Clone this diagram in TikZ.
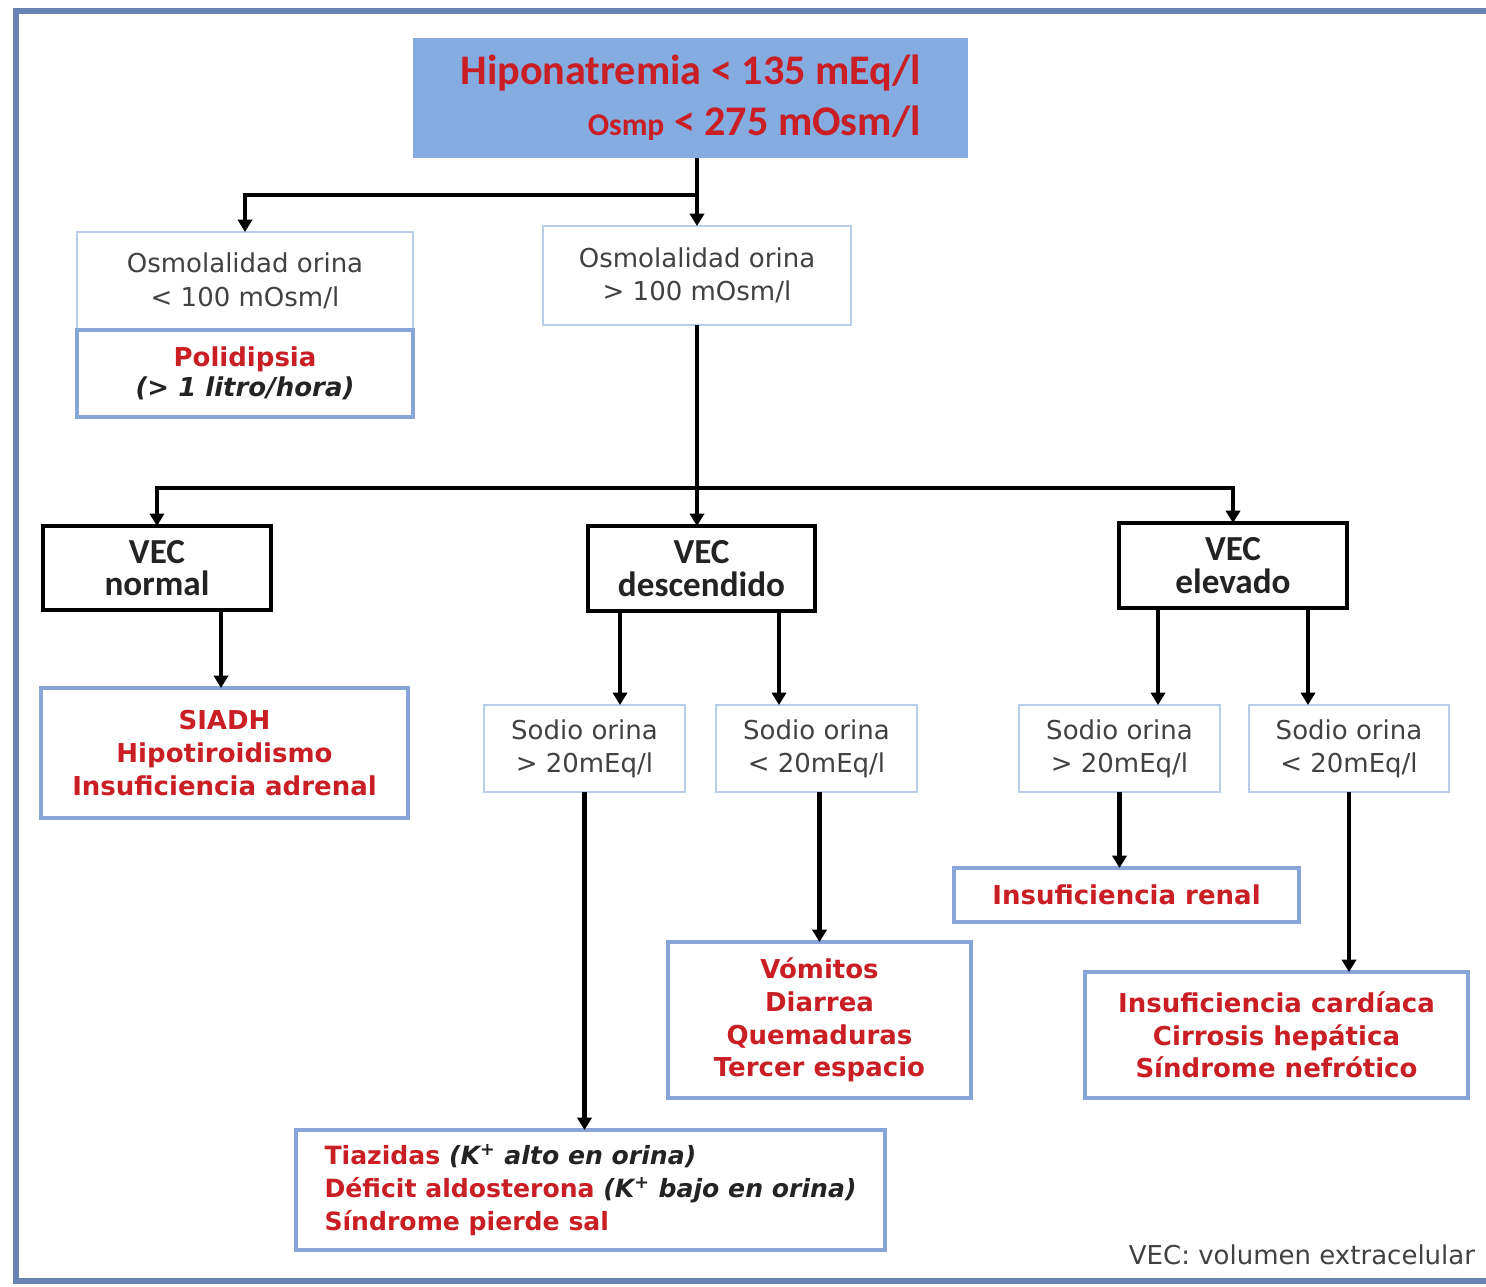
\documentclass[tikz,border=0pt]{standalone}
\usepackage{fontspec}
\setmainfont{DejaVu Sans}
\newfontfamily\carl{Carlito}
\usetikzlibrary{arrows.meta}
\definecolor{rd}{RGB}{200,30,36}
\definecolor{frm}{RGB}{105,130,180}
\definecolor{ttl}{RGB}{132,172,224}
\definecolor{bbl}{RGB}{135,165,215}
\definecolor{lbl}{RGB}{185,205,232}
\definecolor{gtx}{RGB}{65,65,65}
\definecolor{dtx}{RGB}{35,35,35}
\newcommand\bx[7]{\node[#6, minimum width={(#4-#2)*0.02cm}, minimum height={(#5-#3)*0.02cm}] (#1) at ({(#2+#4)/2},{(#3+#5)/2}) {#7};}
\begin{document}
\begin{tikzpicture}[x=0.02cm,y=-0.02cm,
  every node/.style={inner sep=0pt, outer sep=0pt},
  thin box/.style={draw=lbl, line width=0.9pt, fill=white, align=center, text=gtx, font=\fontsize{14.8}{19}\selectfont},
  blue box/.style={draw=bbl, line width=2pt, fill=white, align=center, text=rd, font=\bfseries\fontsize{14.8}{18.6}\selectfont},
  vec box/.style={draw=black, line width=2.6pt, fill=white, align=center, text=dtx, font=\carl\bfseries\fontsize{20}{18.5}\selectfont},
  ln/.style={line width=2.3pt, black},
  arr/.style={ln, -{Triangle[width=8pt,length=7pt]}}]
\useasboundingbox (0,0) rectangle (1486,1286);
\fill[white] (0,0) rectangle (1486,1286);
\draw[frm, line width=3.6pt] (1490,11) -- (16,11) -- (16,1281) -- (1490,1281);
% title
\bx{T}{413}{38}{968}{158}{fill=ttl, align=right, text=rd, font=\carl\bfseries\fontsize{24}{29}\selectfont}{Hiponatremia < 135 mEq/l\\{\fontsize{18}{29}\selectfont Osmp} < 275 mOsm/l}
% level 2
\bx{A}{77}{232}{413}{330}{thin box}{Osmolalidad orina\\< 100 mOsm/l}
\bx{P}{77}{330}{413}{417}{blue box, font=\bfseries\fontsize{14.8}{17}\selectfont}{Polidipsia\\{\color{dtx}\itshape (> 1 litro/hora)}}
\bx{C}{543}{226}{851}{325}{thin box}{Osmolalidad orina\\> 100 mOsm/l}
% VEC
\bx{VN}{43}{526}{271}{610}{vec box}{VEC\\normal}
\bx{VD}{588}{526}{815}{611}{vec box}{VEC\\descendido}
\bx{VE}{1119}{523}{1347}{608}{vec box}{VEC\\elevado}
% results
\bx{SI}{41}{688}{408}{818}{blue box}{SIADH\\Hipotiroidismo\\Insuficiencia adrenal}
\bx{S1}{484}{705}{685}{792}{thin box}{Sodio orina\\> 20mEq/l}
\bx{S2}{716}{705}{917}{792}{thin box}{Sodio orina\\< 20mEq/l}
\bx{S3}{1019}{705}{1220}{792}{thin box}{Sodio orina\\> 20mEq/l}
\bx{S4}{1249}{705}{1449}{792}{thin box}{Sodio orina\\< 20mEq/l}
\bx{IR}{954}{868}{1299}{922}{blue box}{Insuficiencia renal}
\bx{VO}{668}{942}{971}{1098}{blue box}{Vómitos\\Diarrea\\Quemaduras\\Tercer espacio}
\bx{IC}{1085}{972}{1468}{1098}{blue box}{Insuficiencia cardíaca\\Cirrosis hepática\\Síndrome nefrótico}
\bx{TZ}{296}{1130}{885}{1250}{blue box, align=left, font=\bfseries\fontsize{14.3}{18.6}\selectfont}{Tiazidas {\color{dtx}\itshape (K\textsuperscript{+} alto en orina)}\\Déficit aldosterona {\color{dtx}\itshape (K\textsuperscript{+} bajo en orina)}\\Síndrome pierde sal}
\node[anchor=east, text=gtx, font=\fontsize{14.8}{17}\selectfont] (NOTE) at (1475,1255) {VEC: volumen extracelular};
% connectors
\coordinate (j1) at (697,195);
\coordinate (j2) at (697,488);
\coordinate (x1) at (620,0);
\coordinate (x2) at (779,0);
\coordinate (x3) at (1158,0);
\coordinate (x4) at (1308,0);
\coordinate (x5) at (221,0);
\draw[ln] (T.south -| j1) -- (j1);
\draw[arr] (j1) -| (A.north);
\draw[arr] (j1) -- (C.north -| j1);
\draw[ln] (C.south -| j2) -- (j2);
\draw[arr] (j2) -| (VN.north);
\draw[arr] (j2) -| (VE.north);
\draw[arr] (j2) -- (VD.north -| j2);
\draw[arr] (VN.south -| x5) -- (SI.north -| x5);
\draw[arr] (VD.south -| x1) -- (S1.north -| x1);
\draw[arr] (VD.south -| x2) -- (S2.north -| x2);
\draw[arr] (VE.south -| x3) -- (S3.north -| x3);
\draw[arr] (VE.south -| x4) -- (S4.north -| x4);
\draw[arr] (S1.south) -- (S1.south |- TZ.north);
\draw[arr] (VO.north |- S2.south) -- (VO.north);
\draw[arr] (S3.south) -- (S3.south |- IR.north);
\draw[arr] (S4.south) -- (S4.south |- IC.north);
\end{tikzpicture}
\end{document}
